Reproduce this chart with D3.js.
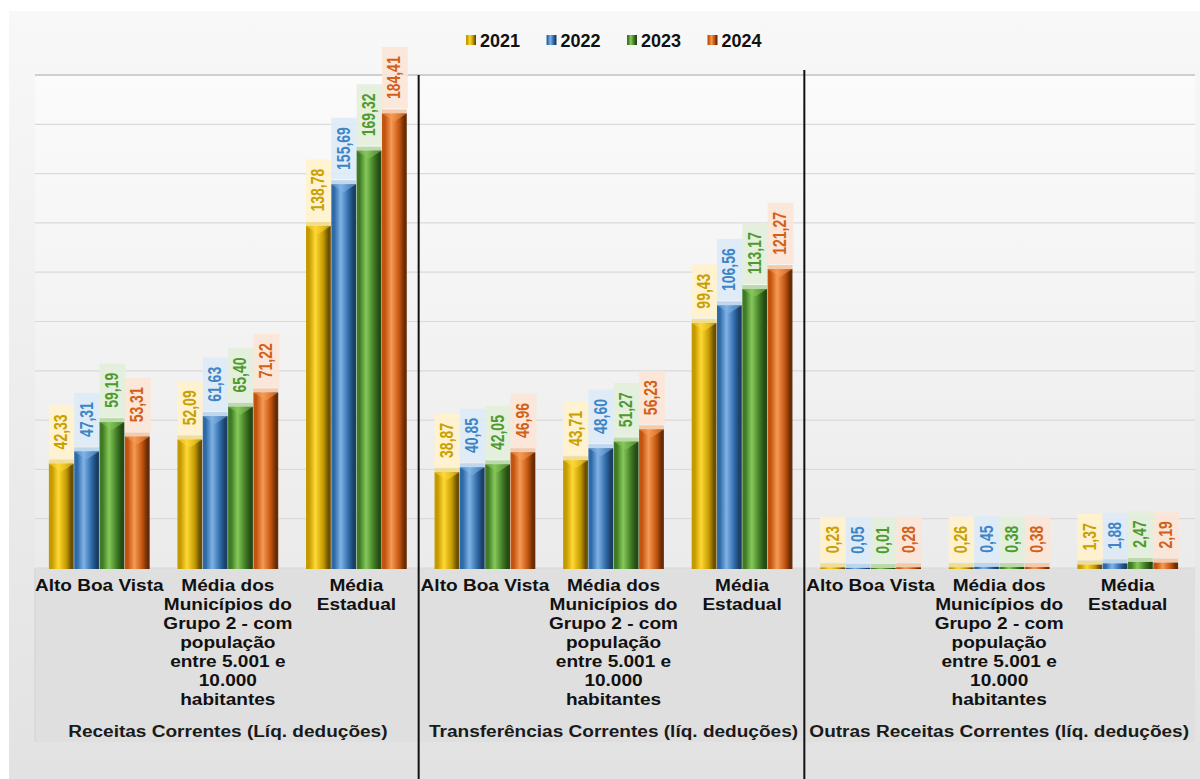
<!DOCTYPE html>
<html><head><meta charset="utf-8">
<script src="https://cdn.jsdelivr.net/npm/d3@7"></script>
<style>html,body{margin:0;padding:0;background:#fff;}svg{display:block;font-family:"Liberation Sans",Arial,sans-serif;}</style>
</head><body><svg id="c" width="1200" height="779"></svg>
<script>
const years = ["2021","2022","2023","2024"];
const categories = ["Alto Boa Vista","Média dos Municípios do Grupo 2 - com população entre 5.001 e 10.000 habitantes","Média Estadual"];
const categoryLines = [["Alto Boa Vista"],["Média dos","Municípios do","Grupo 2 - com","população","entre 5.001 e","10.000","habitantes"],["Média","Estadual"]];
const groups = ["Receitas Correntes (Líq. deduções)","Transferências Correntes (líq. deduções)","Outras Receitas Correntes (líq. deduções)"];
const receitas = [[42.33,47.31,59.19,53.31],[52.09,61.63,65.40,71.22],[138.78,155.69,169.32,184.41]];
const transferencias = [[38.87,40.85,42.05,46.96],[43.71,48.60,51.27,56.23],[99.43,106.56,113.17,121.27]];
const outras = [[0.23,0.05,0.01,0.28],[0.26,0.45,0.38,0.38],[1.37,1.88,2.47,2.19]];
const yTicks = [0,20,40,60,80,100,120,140,160,180,200];

const allSeries = [receitas, transferencias, outras];
const slots = [];
groups.forEach((g,gi)=>categories.forEach((c,ci)=>slots.push({id:gi+"-"+ci,g:gi,c:ci,values:allSeries[gi][ci]})));

const svg = d3.select("#c");
const defs = svg.append("defs");
const L=35,R=1192,T=75,B=568;
const SX=1.19;
const x0 = d3.scaleBand().domain(slots.map(s=>s.id)).range([L,R]);
const bw0 = x0.bandwidth();
const x1 = d3.scaleBand().domain(years).range([bw0*0.108,bw0*0.892]).paddingInner(0.02);
const y = d3.scaleLinear().domain([0,200]).range([B,T]);

const barCol = {
 "2021":{dark:"#6b5000",mid:"#c49a00",light:"#ffd834",cap:"#f1dc8a",txt:"#c9a000",box:"#fff2cc"},
 "2022":{dark:"#1b3f66",mid:"#2f6aa8",light:"#7fb3e6",cap:"#b9d3ee",txt:"#3d85c6",box:"#ddebf7"},
 "2023":{dark:"#254a14",mid:"#3f7a24",light:"#86c95a",cap:"#b6d7a3",txt:"#4e9a2e",box:"#e2efda"},
 "2024":{dark:"#6a2c05",mid:"#c2540f",light:"#f69a55",cap:"#f4c5a3",txt:"#d2601a",box:"#fbe5d6"}
};
years.forEach(yr=>{
 const c=barCol[yr];
 const g=defs.append("linearGradient").attr("id","g"+yr).attr("x1","0").attr("x2","1").attr("y1","0").attr("y2","0");
 [[0,c.mid],[0.12,c.mid],[0.38,c.light],[0.7,c.mid],[0.9,c.dark],[1,c.dark]].forEach(s=>g.append("stop").attr("offset",s[0]).attr("stop-color",s[1]));
});
const bg=defs.append("linearGradient").attr("id","bg").attr("x1",0).attr("x2",0).attr("y1",0).attr("y2",1);
bg.append("stop").attr("offset",0).attr("stop-color","#f8f8f8");
bg.append("stop").attr("offset",1).attr("stop-color","#e2e2e2");
const pg=defs.append("linearGradient").attr("id","pg").attr("x1",0).attr("x2",0).attr("y1",0).attr("y2",1);
pg.append("stop").attr("offset",0).attr("stop-color","#fbfbfb");
pg.append("stop").attr("offset",1).attr("stop-color","#ebebeb");

svg.append("rect").attr("x",9).attr("y",11).attr("width",1191).attr("height",768).attr("fill","url(#bg)");
svg.append("rect").attr("x",L).attr("y",T).attr("width",1195-L).attr("height",B-T).attr("fill","url(#pg)");
svg.append("rect").attr("x",L).attr("y",B).attr("width",1195-L).attr("height",742-B).attr("fill","#dfdfdf");

// gridlines
svg.append("g").selectAll("line").data(yTicks).join("line")
 .attr("x1",L).attr("x2",1195).attr("y1",d=>y(d)).attr("y2",d=>y(d))
 .attr("stroke",d=>d===200?"#cfcfcf":"#dadada").attr("stroke-width",d=>d===200?2:1.2);

// bars
const gSlot = svg.append("g").selectAll("g").data(slots).join("g").attr("transform",d=>`translate(${x0(d.id)},0)`);
const bars = gSlot.selectAll("g").data(d=>years.map((yr,i)=>({yr,v:d.values[i]}))).join("g");
const bw=x1.bandwidth();
bars.append("rect").attr("x",d=>x1(d.yr)).attr("y",d=>y(d.v)-4).attr("width",bw).attr("height",4)
 .attr("fill",d=>barCol[d.yr].cap).attr("opacity",0.9);
bars.append("rect").attr("x",d=>x1(d.yr)).attr("y",d=>y(d.v)).attr("width",bw).attr("height",d=>B-y(d.v)+1)
 .attr("fill",d=>"url(#g"+d.yr+")");
bars.filter(d=>B-y(d.v)>8).append("path").attr("d",d=>{const x=x1(d.yr),t=y(d.v);return `M${x},${t}L${x+bw},${t}L${x+bw/2},${t+8}Z`;})
 .attr("fill",d=>barCol[d.yr].light).attr("opacity",0.55);
// labels
bars.each(function(d){
 const g=d3.select(this);
 const txt=d.v.toFixed(2).replace(".",",");
 const cx=x1(d.yr)+bw/2;
 const top=y(d.v)-5;
 const tw=txt.length*7.9;
 const h=tw+14;
 g.append("rect").attr("x",x1(d.yr)).attr("y",top-h).attr("width",bw+1).attr("height",h).attr("fill",barCol[d.yr].box).attr("opacity",0.9);
 g.append("text").attr("transform",`translate(${cx+6},${top-h/2}) rotate(-90) scale(1,1.25)`).attr("text-anchor","middle")
  .attr("font-size",14).attr("font-weight","bold").attr("fill",barCol[d.yr].txt).text(txt);
});

// separators
[3,6].forEach((k,i)=>{
 const xs=x0(slots[k].id)-2;
 svg.append("line").attr("x1",xs).attr("x2",xs).attr("y1",i===0?75:70).attr("y2",779).attr("stroke","#111").attr("stroke-width",2);
});
svg.append("line").attr("x1",L).attr("x2",L).attr("y1",B).attr("y2",742).attr("stroke","#d2d2d2").attr("stroke-width",1);

// category labels
slots.forEach(s=>{
 const cx=x0(s.id)+bw0/2;
 const t=svg.append("g").attr("transform",`translate(${cx},0) scale(${SX},1)`).append("text").attr("x",0).attr("y",591).attr("text-anchor","middle")
  .attr("font-size",16).attr("font-weight","bold").attr("fill","#111");
 categoryLines[s.c].forEach((ln,i)=>t.append("tspan").attr("x",0).attr("dy",i?19:0).text(ln));
});
groups.forEach((g,gi)=>{
 const a=x0(gi+"-0"), b=x0(gi+"-2")+bw0;
 svg.append("g").attr("transform",`translate(${(a+b)/2},0) scale(${SX},1)`).append("text").attr("x",0).attr("y",737).attr("text-anchor","middle").attr("font-size",16)
  .attr("font-weight","bold").attr("fill","#1a1a1a").text(g);
});

// legend
const lg=svg.append("g").attr("transform","translate(466,40)");
years.forEach((yr,i)=>{
 const it=lg.append("g").attr("transform",`translate(${i*80.5},0)`);
 it.append("rect").attr("x",0).attr("y",-5).attr("width",10).attr("height",10).attr("fill","url(#g"+yr+")");
 it.append("text").attr("x",14).attr("y",6.5).attr("font-size",18).attr("font-weight","bold").attr("fill","#111").text(yr);
});
</script></body></html>
